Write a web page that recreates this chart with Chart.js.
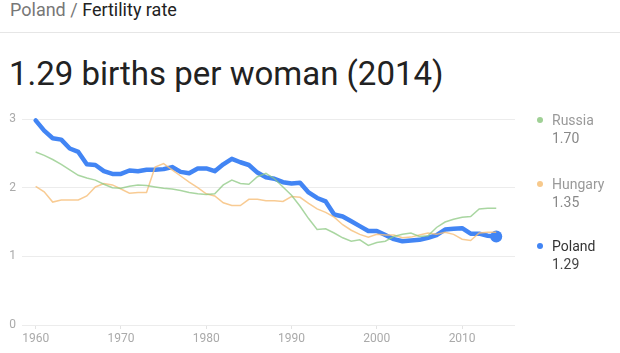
<!DOCTYPE html>
<html>
<head>
<meta charset="utf-8">
<script src="https://cdn.jsdelivr.net/npm/chart.js@4"></script>
<style>
  body { margin: 0; width: 620px; height: 353px; overflow: hidden; background: #fff; font-family: Roboto, Arial, sans-serif; }
  #crumb { position: absolute; left: 10px; top: -1px; font-size: 18px; line-height: 22px; color: #777; }
  #crumb b { font-weight: 400; color: #222; }
  #sep { position: absolute; left: 0; top: 32px; width: 620px; height: 1px; background: #e6e6e6; }
  #headline { position: absolute; left: 9px; top: 55px; font-size: 33px; line-height: 38px; color: #222; }
  #wrap { position: absolute; left: 0; top: 0; width: 620px; height: 353px; }
  .leg { position: absolute; left: 552px; font-size: 14px; line-height: 18px; color: #999; }
  .leg .dot { position: absolute; left: -15px; top: 6px; width: 6px; height: 6px; border-radius: 50%; }
</style>
</head>
<body>
<div id="crumb">Poland / <b>Fertility rate</b></div>
<div id="sep"></div>
<div id="headline">1.29 births per woman (2014)</div>
<div id="wrap"><canvas id="fertChart" width="620" height="353"></canvas></div>
<div id="legend"></div>
<script>
// ===== Fertility rate chart =====
const years = [];
for (let y = 1960; y <= 2014; y++) years.push(y);

const poland = [2.98, 2.83, 2.72, 2.70, 2.57, 2.52, 2.34, 2.33, 2.24, 2.20,
    2.20, 2.25, 2.24, 2.26, 2.26, 2.27, 2.30, 2.23, 2.21, 2.28,
    2.28, 2.24, 2.34, 2.42, 2.37, 2.33, 2.22, 2.15, 2.13, 2.08,
    2.06, 2.07, 1.93, 1.85, 1.80, 1.61, 1.58, 1.51, 1.44, 1.37,
    1.37, 1.31, 1.25, 1.22, 1.23, 1.24, 1.27, 1.31, 1.39, 1.40,
    1.41, 1.33, 1.33, 1.30, 1.29];

const russia = [2.52, 2.47, 2.41, 2.34, 2.26, 2.18, 2.14, 2.11, 2.05, 2.00,
    1.99, 2.02, 2.04, 2.03, 2.01, 1.99, 1.98, 1.96, 1.93, 1.91,
    1.90, 1.91, 2.04, 2.11, 2.06, 2.05, 2.16, 2.21, 2.13, 2.01,
    1.89, 1.73, 1.55, 1.39, 1.40, 1.34, 1.27, 1.22, 1.24, 1.16,
    1.20, 1.22, 1.29, 1.32, 1.34, 1.29, 1.30, 1.42, 1.50, 1.54,
    1.57, 1.58, 1.69, 1.70, 1.70];

const hungary = [2.02, 1.94, 1.79, 1.82, 1.82, 1.82, 1.88, 2.01, 2.06, 2.04,
    1.98, 1.92, 1.93, 1.93, 2.30, 2.35, 2.26, 2.17, 2.08, 2.00,
    1.91, 1.88, 1.78, 1.74, 1.74, 1.83, 1.83, 1.81, 1.81, 1.80,
    1.87, 1.86, 1.77, 1.69, 1.64, 1.57, 1.46, 1.38, 1.32, 1.28,
    1.32, 1.31, 1.31, 1.27, 1.28, 1.31, 1.34, 1.32, 1.35, 1.32,
    1.25, 1.23, 1.34, 1.35, 1.35];

const xTicks = [1960, 1970, 1980, 1990, 2000, 2010];
const yTicks = [0, 1, 2, 3];

const legendItems = [
    { name: "Russia", value: "1.70", color: "#9fd095", top: 111, text: "#999", val: "#888" },
    { name: "Hungary", value: "1.35", color: "#f7c98c", top: 175, text: "#999", val: "#888" },
    { name: "Poland", value: "1.29", color: "#4285f4", top: 237, text: "#333", val: "#444" }
];

function toPoints(arr) {
    return arr.map((v, i) => ({ x: years[i], y: v }));
}

const ctx = document.getElementById("fertChart").getContext("2d");

const fertChart = new Chart(ctx, {
    type: "line",
    data: {
        datasets: [
            {
                label: "Russia",
                data: toPoints(russia),
                borderColor: "rgba(140,200,130,0.75)",
                borderWidth: 1.5,
                pointRadius: 0,
                tension: 0,
                clip: false
            },
            {
                label: "Hungary",
                data: toPoints(hungary),
                borderColor: "rgba(246,190,120,0.8)",
                borderWidth: 1.5,
                pointRadius: 0,
                tension: 0,
                clip: false
            },
            {
                label: "Poland",
                data: toPoints(poland),
                borderColor: "#4285f4",
                backgroundColor: "#4285f4",
                borderWidth: 4.5,
                pointRadius: poland.map((v, i) => i === poland.length - 1 ? 6 : 0),
                pointBorderWidth: 0,
                tension: 0,
                borderJoinStyle: "round",
                borderCapStyle: "round",
                clip: false
            }
        ]
    },
    options: {
        responsive: false,
        animation: false,
        events: [],
        layout: { padding: { top: 119, right: 105, left: 0, bottom: 0 } },
        plugins: { legend: { display: false }, tooltip: { enabled: false } },
        scales: {
            x: {
                type: "linear",
                min: 1958.4,
                max: 2016.2,
                afterBuildTicks: (scale) => { scale.ticks = xTicks.map(v => ({ value: v })); },
                afterFit: (scale) => { scale.height = 28; },
                border: { display: false },
                grid: { drawOnChartArea: false, drawTicks: true, tickLength: 4, color: "#e3e3e3" },
                ticks: {
                    color: "#aaa",
                    font: { family: "Roboto", size: 12 },
                    padding: 3,
                    maxRotation: 0,
                    callback: (v) => String(v)
                }
            },
            y: {
                min: 0,
                max: 3,
                afterBuildTicks: (scale) => { scale.ticks = yTicks.map(v => ({ value: v })); },
                afterFit: (scale) => { scale.width = 22; },
                border: { display: false },
                grid: { drawTicks: false, color: "#ececec", lineWidth: 1 },
                ticks: {
                    color: "#aaa",
                    font: { family: "Roboto", size: 12 },
                    padding: 6
                }
            }
        }
    }
});

// Build the legend on the right
const legendEl = document.getElementById("legend");
legendItems.forEach(item => {
    const div = document.createElement("div");
    div.className = "leg";
    div.style.top = item.top + "px";
    div.innerHTML = `<span class="dot" style="background:${item.color}"></span>` +
        `<div style="color:${item.text}">${item.name}</div>` +
        `<div style="color:${item.val}">${item.value}</div>`;
    legendEl.appendChild(div);
});
</script>
</body>
</html>
